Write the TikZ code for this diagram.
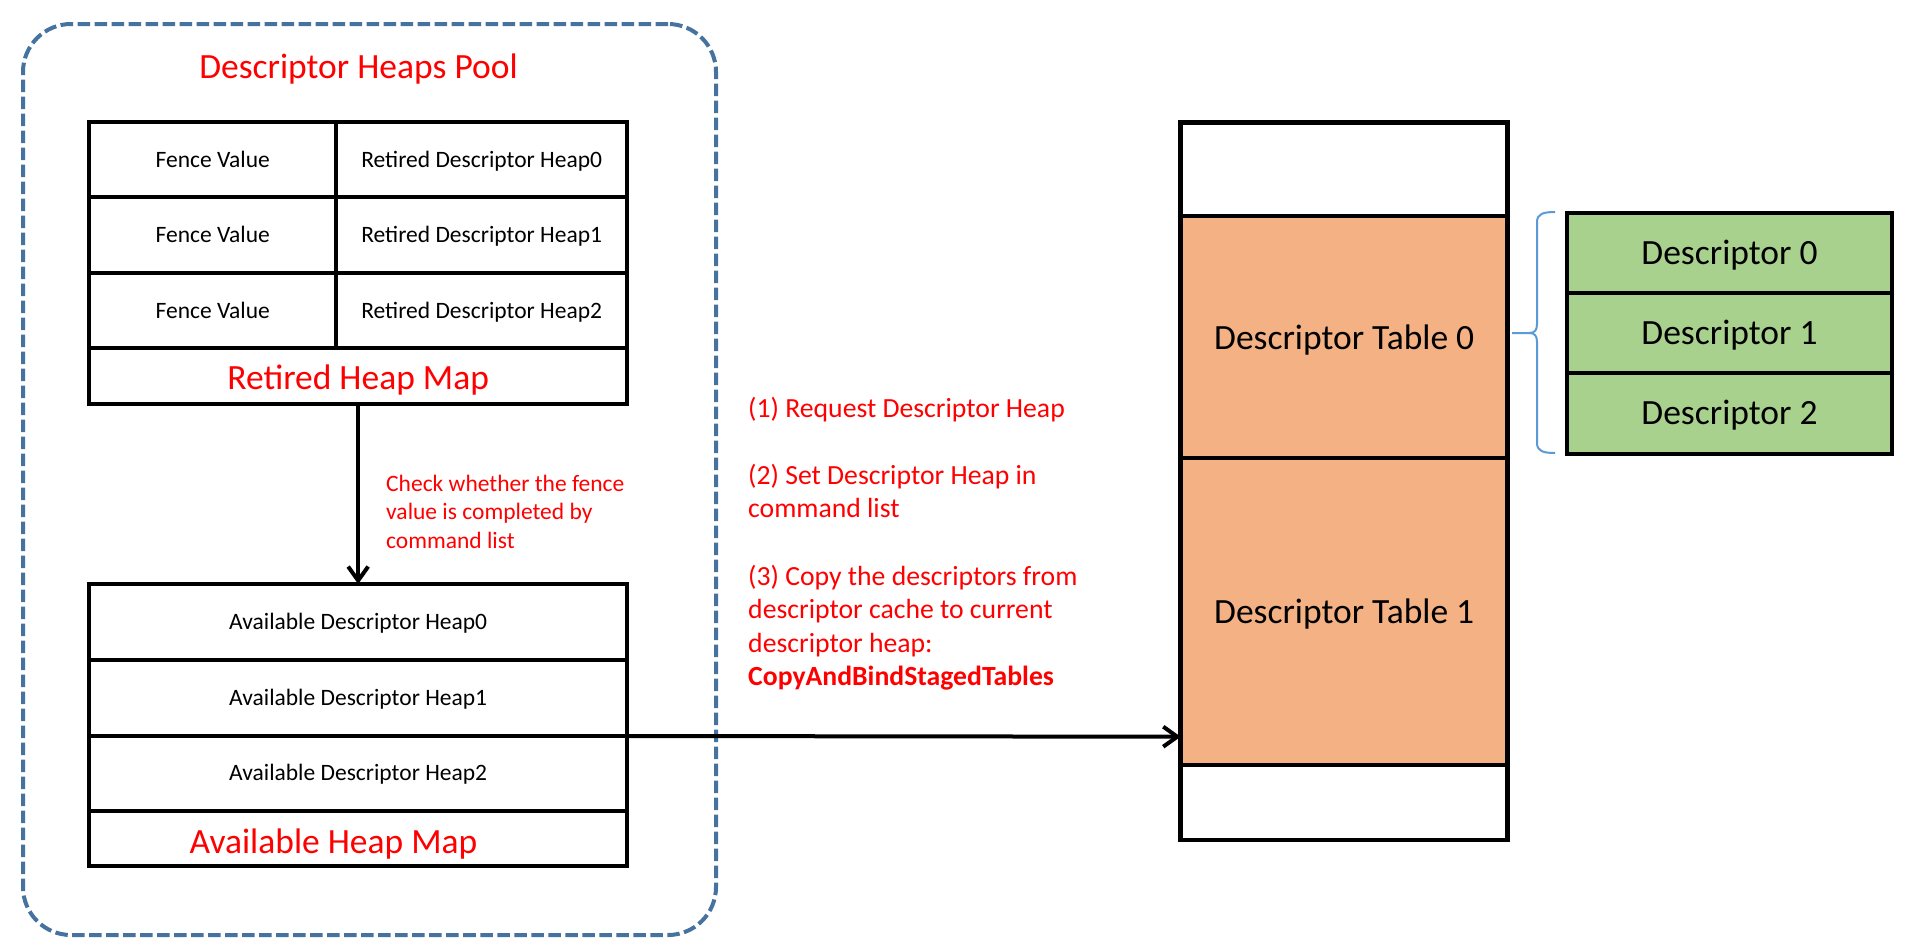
\documentclass[tikz,border=0pt]{standalone}
\usepackage{fontspec}
\setmainfont{Carlito}
\usetikzlibrary{arrows.meta}
\definecolor{poolblue}{HTML}{45729F}
\definecolor{bracecol}{HTML}{5B9BD5}
\definecolor{tblorange}{HTML}{F4B183}
\definecolor{descgreen}{HTML}{A9D18E}
\definecolor{txtred}{HTML}{FF0000}
\begin{document}
\begin{tikzpicture}[x=1pt,y=-1pt,
  cell/.style={draw=black, line width=4pt, inner sep=0pt, outer sep=0pt, fill=white,
    text height=14.85pt, text depth=0pt, font=\fontsize{23.5}{28}\selectfont},
  bigcell/.style={cell, line width=4.7pt, text height=22.4pt, text depth=0pt, font=\fontsize{35.5}{42}\selectfont},
  redbig/.style={inner sep=0pt, text=txtred, text height=22.4pt, text depth=0pt, font=\fontsize{35.5}{42}\selectfont},
  notetext/.style={inner sep=0pt, anchor=base west, text=txtred, font=\fontsize{23.5}{28}\selectfont},
  steptext/.style={inner sep=0pt, anchor=base west, text=txtred, font=\fontsize{27.7}{33}\selectfont},
  arrowline/.style={draw=black, line width=4pt, -{Straight Barb[length=14pt,width=20pt,line width=4pt]}},
]
\useasboundingbox[fill=white] (0,0) rectangle (1905,948);

% pool
\node[draw=poolblue, line width=4pt, dash pattern=on 12.5pt off 4.5pt, rounded corners=48pt,
  minimum width=693pt, minimum height=911pt, inner sep=0pt] (pool) at (369.5,479.5) {};
\node[redbig] (title) at (358.5,67) {Descriptor Heaps Pool};

% retired heap map
\node[cell, minimum width=247pt, minimum height=75pt] (f0) at (212.8,159.8) {Fence Value};
\node[cell, minimum width=290.7pt, minimum height=75pt] (h0) at (481.65,159.8) {Retired Descriptor Heap0};
\node[cell, minimum width=247pt, minimum height=76pt] (f1) at (212.8,235.3) {Fence Value};
\node[cell, minimum width=290.7pt, minimum height=76pt] (h1) at (481.65,235.3) {Retired Descriptor Heap1};
\node[cell, minimum width=247pt, minimum height=75pt] (f2) at (212.8,310.8) {Fence Value};
\node[cell, minimum width=290.7pt, minimum height=75pt] (h2) at (481.65,310.8) {Retired Descriptor Heap2};
\node[cell, minimum width=537.7pt, minimum height=55.7pt, text=txtred, text height=26.4pt,
  font=\fontsize{35.5}{42}\selectfont] (rmap) at (358.15,376.15) {Retired Heap Map};

% available heap map
\node[cell, minimum width=537.7pt, minimum height=76pt] (a0) at (358.15,622) {Available Descriptor Heap0};
\node[cell, minimum width=537.7pt, minimum height=76pt] (a1) at (358.15,698) {Available Descriptor Heap1};
\node[cell, minimum width=537.7pt, minimum height=75pt] (a2) at (358.15,773.5) {Available Descriptor Heap2};
\node[cell, minimum width=537.7pt, minimum height=55pt] (amap) at (358.15,838.5) {};
\node[redbig] (amaplbl) at (333.5,842) {Available Heap Map};

% check note
\node[notetext] (c1) at (386,491) {Check whether the fence};
\node[notetext] (c2) at (386,519) {value is completed by};
\node[notetext] (c3) at (386,548) {command list};

% steps
\node[steptext] (s1) at (748,417) {(1) Request Descriptor Heap};
\node[steptext] (s2a) at (748,484) {(2) Set Descriptor Heap in};
\node[steptext] (s2b) at (748,517) {command list};
\node[steptext] (s3a) at (748,585) {(3) Copy the descriptors from};
\node[steptext] (s3b) at (748,618) {descriptor cache to current};
\node[steptext] (s3c) at (748,652) {descriptor heap:};
\node[steptext, font=\fontsize{27.7}{33}\selectfont\bfseries] (s3d) at (748,685) {CopyAndBindStagedTables};

% descriptor heap column
\node[bigcell, minimum width=327pt, minimum height=93.7pt] (t0) at (1344.2,169.15) {};
\node[bigcell, fill=tblorange, minimum width=327pt, minimum height=242pt] (t1) at (1344.2,337) {};
\node[bigcell, fill=tblorange, minimum width=327pt, minimum height=307pt] (t2) at (1344.2,611.5) {};
\node[bigcell, minimum width=327pt, minimum height=75pt] (t3) at (1344.2,802.5) {};
\node[redbig, text=black] (t1lbl) at (1344.2,338) {Descriptor Table 0};
\node[redbig, text=black] (t2lbl) at (1344.2,612) {Descriptor Table 1};

% descriptors
\node[bigcell, fill=descgreen, minimum width=325pt, minimum height=80pt] (d0) at (1729.5,253) {Descriptor 0};
\node[bigcell, fill=descgreen, minimum width=325pt, minimum height=80pt] (d1) at (1729.5,333) {Descriptor 1};
\node[bigcell, fill=descgreen, minimum width=325pt, minimum height=81pt] (d2) at (1729.5,413.5) {Descriptor 2};

% brace
\draw[bracecol, line width=2pt] (1555,212) .. controls (1543,212) and (1537,214) .. (1537,222) -- (1537,324)
  .. controls (1537,330) and (1535,333) .. (1529,333) -- (1512,333) -- (1529,333)
  .. controls (1535,333) and (1537,336) .. (1537,342) -- (1537,443)
  .. controls (1537,451) and (1543,453) .. (1555,453);

% arrows
\draw[arrowline] (rmap.south) -- (a0.north);
\draw[arrowline] (a1.south east) -- ([yshift=-125.2pt]t2.west);
\end{tikzpicture}
\end{document}
